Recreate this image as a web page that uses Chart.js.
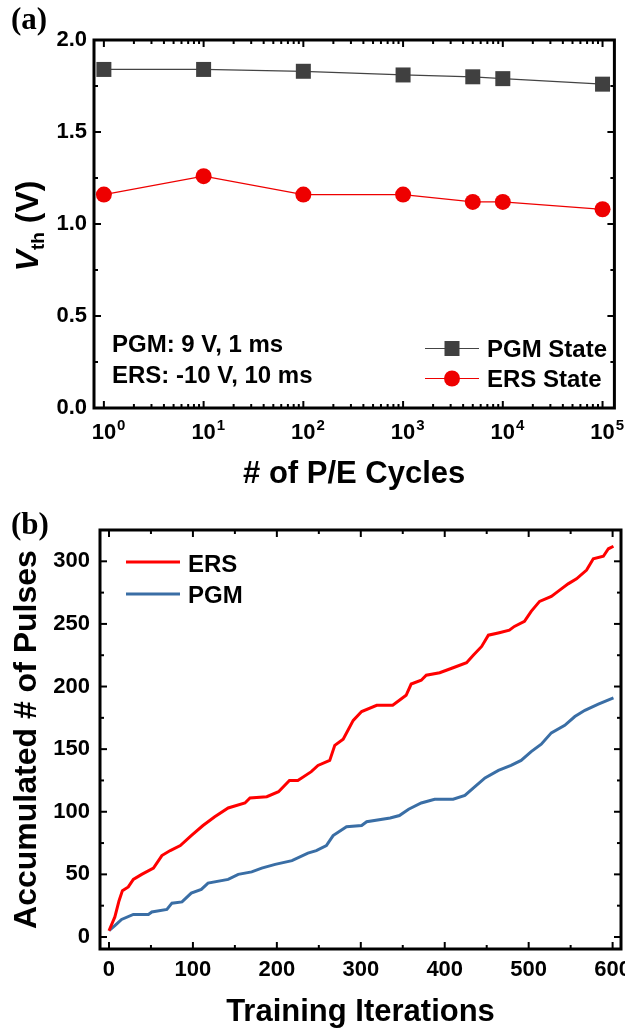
<!DOCTYPE html>
<html>
<head>
<meta charset="utf-8">
<script src="https://cdn.jsdelivr.net/npm/chart.js@4.4.1/dist/chart.umd.min.js"></script>
<style>
body { margin: 0; background: #fff; width: 625px; height: 1031px; overflow: hidden; position: relative; }
.box { position: absolute; left: 0; width: 625px; }
#boxA { top: 0; height: 500px; }
#boxB { top: 500px; height: 531px; }
.tag { position: absolute; font-family: "Liberation Serif", "Times New Roman", serif; font-weight: bold; font-size: 31px; line-height: 1; }
</style>
</head>
<body>
<div class="box" id="boxA"><canvas id="chartA"></canvas></div>
<div class="box" id="boxB"><canvas id="chartB"></canvas></div>
<div class="tag" style="left:11px;top:3px">(a)</div>
<div class="tag" style="left:11px;top:508px">(b)</div>
<script>
// (a) threshold voltage vs P/E cycles
const cycles = [1, 10, 100, 1000, 5000, 10000, 100000]
const pgmVth = [1.84, 1.84, 1.83, 1.81, 1.80, 1.79, 1.76]
const ersVth = [1.16, 1.26, 1.16, 1.16, 1.12, 1.12, 1.08]
const cycleTicks = [1, 10, 100, 1000, 10000, 100000]
const vthTicks = [0, 0.5, 1.0, 1.5, 2.0]

// (b) accumulated pulses vs training iterations
const ersIter = [0, 7, 12, 16, 23, 29, 39, 53, 63, 73, 85, 98, 112, 126, 142, 162, 168, 188, 202, 215, 225, 241, 249, 263, 269, 279, 291, 301, 319, 338, 346, 354, 360, 372, 378, 394, 410, 426, 434, 444, 452, 465, 477, 483, 495, 503, 513, 527, 535, 547, 557, 569, 577, 589, 595, 601]
const ersPulses = [5, 16, 29, 37, 40, 46, 50, 55, 65, 69, 73, 81, 89, 96, 103, 107, 111, 112, 116, 125, 125, 132, 137, 141, 153, 158, 173, 180, 185, 185, 189, 193, 202, 205, 209, 211, 215, 219, 225, 232, 241, 243, 245, 248, 252, 260, 268, 272, 276, 282, 286, 293, 302, 304, 310, 312]
const pgmIter = [0, 7, 15, 29, 47, 51, 69, 75, 87, 98, 110, 118, 142, 154, 170, 182, 198, 218, 237, 247, 259, 267, 283, 301, 307, 335, 346, 357, 372, 388, 410, 424, 436, 448, 464, 479, 491, 503, 515, 527, 543, 555, 567, 583, 601]
const pgmPulses = [5, 9, 14, 18, 18, 20, 22, 27, 28, 35, 38, 43, 46, 50, 52, 55, 58, 61, 67, 69, 73, 81, 88, 89, 92, 95, 97, 102, 107, 110, 110, 113, 120, 127, 133, 137, 141, 148, 154, 163, 169, 176, 181, 186, 191]
const iterTicks = [0, 100, 200, 300, 400, 500, 600]
const pulseTicks = [0, 50, 100, 150, 200, 250, 300]

const FONT = "'Liberation Sans', Arial, sans-serif"

function midpoints(ticks) {
	const out = []
	for (let i = 1; i < ticks.length; i++) out.push((ticks[i - 1] + ticks[i]) / 2)
	return out
}

function logMinors(ticks) {
	const out = []
	ticks.forEach((t) => {
		for (let k = 2; k <= 9; k++) out.push(t * k)
	})
	return out
}

function toPoints(xs, ys) {
	return xs.map((x, i) => ({ x, y: ys[i] }))
}

// box frame with inward tick marks on all four sides
const frame = {
	id: "frame",
	afterDatasetsDraw(chart, args, opts) {
		const { ctx, chartArea: a, scales: { x, y } } = chart
		ctx.save()
		ctx.strokeStyle = "#000"
		ctx.lineWidth = 2
		const mark = (x1, y1, x2, y2) => {
			ctx.beginPath()
			ctx.moveTo(x1, y1)
			ctx.lineTo(x2, y2)
			ctx.stroke()
		}
		const xMarks = (vals, len) => vals.forEach((v) => {
			const px = x.getPixelForValue(v)
			if (px < a.left || px > a.right) return
			mark(px, a.bottom, px, a.bottom - len)
			mark(px, a.top, px, a.top + len)
		})
		const yMarks = (vals, len) => vals.forEach((v) => {
			const py = y.getPixelForValue(v)
			if (py < a.top || py > a.bottom) return
			mark(a.left, py, a.left + len, py)
			mark(a.right, py, a.right - len, py)
		})
		xMarks(opts.xMajor, 7)
		xMarks(opts.xMinor, 4)
		yMarks(opts.yMajor, 7)
		yMarks(opts.yMinor, 4)
		ctx.lineWidth = 3
		ctx.strokeRect(a.left, a.top, a.right - a.left, a.bottom - a.top)
		ctx.restore()
	},
}

// labels, legend and notes for panel (a)
const panelA = {
	id: "panelA",
	afterDraw(chart) {
		const { ctx, scales: { x } } = chart
		ctx.save()
		ctx.fillStyle = "#000"
		// x tick labels 10^n
		cycleTicks.forEach((v) => {
			const px = x.getPixelForValue(v)
			const e = Math.round(Math.log10(v))
			ctx.font = "bold 22px " + FONT
			ctx.textAlign = "center"
			ctx.textBaseline = "alphabetic"
			ctx.fillText("10", px, 439)
			const w = ctx.measureText("10").width
			ctx.font = "bold 15px " + FONT
			ctx.textAlign = "left"
			ctx.fillText(String(e), px + w / 2 + 1, 430)
		})
		// y title V_th (V)
		ctx.save()
		ctx.translate(38, 226)
		ctx.rotate(-Math.PI / 2)
		ctx.textAlign = "left"
		ctx.font = "italic bold 32px " + FONT
		const wV = ctx.measureText("V").width
		ctx.font = "bold 19px " + FONT
		const wSub = ctx.measureText("th").width
		ctx.font = "bold 32px " + FONT
		const wRest = ctx.measureText(" (V)").width
		let cx = -(wV + wSub + wRest) / 2
		ctx.font = "italic bold 32px " + FONT
		ctx.fillText("V", cx, 0)
		cx += wV
		ctx.font = "bold 19px " + FONT
		ctx.fillText("th", cx, 6)
		cx += wSub
		ctx.font = "bold 32px " + FONT
		ctx.fillText(" (V)", cx, 0)
		ctx.restore()
		// notes
		ctx.font = "bold 24px " + FONT
		ctx.textAlign = "left"
		ctx.fillText("PGM: 9 V, 1 ms", 112, 352)
		ctx.fillText("ERS: -10 V, 10 ms", 112, 383)
		// legend
		ctx.lineWidth = 1.2
		ctx.strokeStyle = "#444"
		ctx.beginPath()
		ctx.moveTo(425, 348.5)
		ctx.lineTo(479, 348.5)
		ctx.stroke()
		ctx.fillStyle = "#404040"
		ctx.fillRect(444.5, 341, 15, 15)
		ctx.strokeStyle = "#ee0000"
		ctx.beginPath()
		ctx.moveTo(425, 378.5)
		ctx.lineTo(479, 378.5)
		ctx.stroke()
		ctx.fillStyle = "#ee0000"
		ctx.beginPath()
		ctx.arc(452, 378.5, 8, 0, Math.PI * 2)
		ctx.fill()
		ctx.fillStyle = "#000"
		ctx.font = "bold 24px " + FONT
		ctx.fillText("PGM State", 487, 357)
		ctx.fillText("ERS State", 487, 387)
		ctx.restore()
	},
}

// legend for panel (b)
const panelB = {
	id: "panelB",
	afterDraw(chart) {
		const { ctx } = chart
		ctx.save()
		ctx.lineWidth = 3
		ctx.strokeStyle = "#ff0000"
		ctx.beginPath()
		ctx.moveTo(126, 62)
		ctx.lineTo(180, 62)
		ctx.stroke()
		ctx.strokeStyle = "#3a6ea5"
		ctx.beginPath()
		ctx.moveTo(126, 94)
		ctx.lineTo(180, 94)
		ctx.stroke()
		ctx.fillStyle = "#000"
		ctx.font = "bold 24px " + FONT
		ctx.textAlign = "left"
		ctx.fillText("ERS", 188, 72)
		ctx.fillText("PGM", 188, 103)
		ctx.restore()
	},
}

function noPad(scale) {
	scale.paddingLeft = 0
	scale.paddingRight = 0
	scale.paddingTop = 0
	scale.paddingBottom = 0
}

new Chart(document.getElementById("chartA"), {
	type: "scatter",
	data: {
		datasets: [
			{
				label: "PGM State",
				data: toPoints(cycles, pgmVth),
				showLine: true,
				borderColor: "#444",
				borderWidth: 1.2,
				backgroundColor: "#404040",
				pointStyle: "rect",
				pointRadius: 10.6,
				pointBorderWidth: 0,
				clip: false,
			},
			{
				label: "ERS State",
				data: toPoints(cycles, ersVth),
				showLine: true,
				borderColor: "#ee0000",
				borderWidth: 1.2,
				backgroundColor: "#ee0000",
				pointStyle: "circle",
				pointRadius: 8,
				pointBorderWidth: 0,
				clip: false,
			},
		],
	},
	options: {
		responsive: true,
		maintainAspectRatio: false,
		animation: false,
		layout: { padding: { top: 40, right: 5, left: 0, bottom: 0 } },
		plugins: {
			legend: { display: false },
			tooltip: { enabled: false },
			frame: { xMajor: cycleTicks, xMinor: logMinors(cycleTicks), yMajor: vthTicks, yMinor: midpoints(vthTicks) },
		},
		scales: {
			x: {
				type: "logarithmic",
				min: 0.796,
				max: 131500,
				grid: { display: false, drawTicks: false },
				border: { display: false },
				ticks: { display: false },
				afterFit: (s) => { s.height = 92; noPad(s) },
				title: { display: true, text: "# of P/E Cycles", color: "#000", font: { family: FONT, size: 31, weight: "bold" }, padding: { top: 0, bottom: 7 } },
			},
			y: {
				min: 0,
				max: 2,
				afterBuildTicks: (s) => { s.ticks = vthTicks.map((v) => ({ value: v })) },
				grid: { display: false, drawTicks: false },
				border: { display: false },
				ticks: { color: "#000", padding: 7, font: { family: FONT, size: 22, weight: "bold" }, callback: (v) => v.toFixed(1) },
				afterFit: (s) => { s.width = 94 },
			},
		},
	},
	plugins: [frame, panelA],
})

new Chart(document.getElementById("chartB"), {
	type: "scatter",
	data: {
		datasets: [
			{
				label: "ERS",
				data: toPoints(ersIter, ersPulses),
				showLine: true,
				borderColor: "#ff0000",
				borderWidth: 3,
				pointRadius: 0,
				clip: false,
			},
			{
				label: "PGM",
				data: toPoints(pgmIter, pgmPulses),
				showLine: true,
				borderColor: "#3a6ea5",
				borderWidth: 3,
				pointRadius: 0,
				clip: false,
			},
		],
	},
	options: {
		responsive: true,
		maintainAspectRatio: false,
		animation: false,
		layout: { padding: { top: 30, right: 4, left: 0, bottom: 0 } },
		plugins: {
			legend: { display: false },
			tooltip: { enabled: false },
			frame: { xMajor: iterTicks, xMinor: midpoints(iterTicks), yMajor: pulseTicks, yMinor: midpoints(pulseTicks) },
		},
		scales: {
			x: {
				min: -10.7,
				max: 610,
				afterBuildTicks: (s) => { s.ticks = iterTicks.map((v) => ({ value: v })) },
				grid: { display: false, drawTicks: false },
				border: { display: false },
				ticks: { color: "#000", padding: 8, maxRotation: 0, autoSkip: false, font: { family: FONT, size: 22, weight: "bold" } },
				afterFit: (s) => { s.height = 82; noPad(s) },
				title: { display: true, text: "Training Iterations", color: "#000", font: { family: FONT, size: 31, weight: "bold" }, padding: { top: 0, bottom: 0 } },
			},
			y: {
				min: -9.6,
				max: 325,
				afterBuildTicks: (s) => { s.ticks = pulseTicks.map((v) => ({ value: v })) },
				grid: { display: false, drawTicks: false },
				border: { display: false },
				ticks: { color: "#000", padding: 10, font: { family: FONT, size: 22, weight: "bold" } },
				afterFit: (s) => { s.width = 100 },
				title: { display: true, text: "Accumulated # of Pulses", color: "#000", font: { family: FONT, size: 32, weight: "bold" }, padding: { top: 8, bottom: 0 } },
			},
		},
	},
	plugins: [frame, panelB],
})
</script>
</body>
</html>
